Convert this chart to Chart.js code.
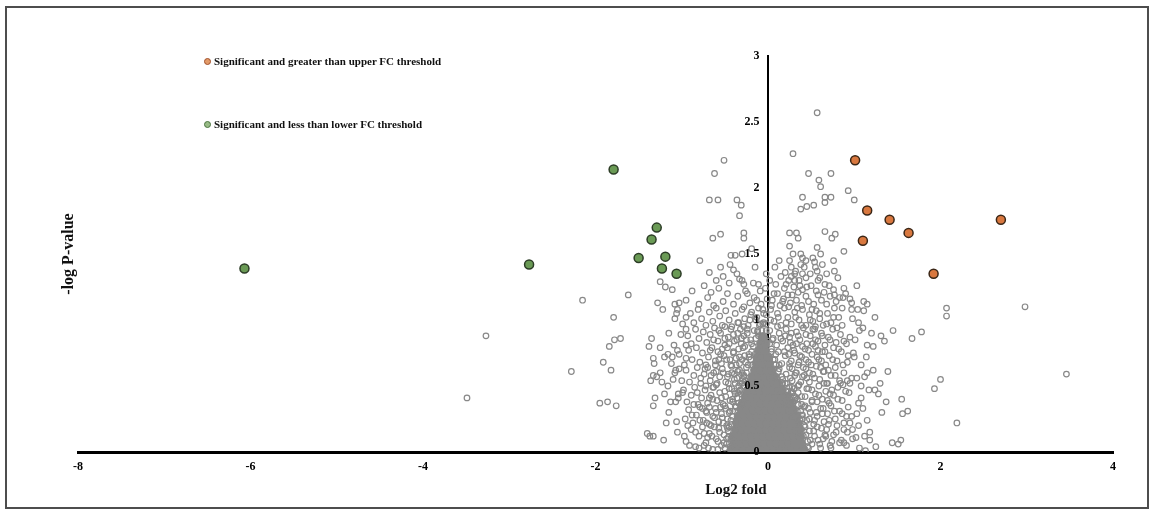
<!DOCTYPE html>
<html>
<head>
<meta charset="utf-8">
<script src="https://cdn.jsdelivr.net/npm/chart.js@4.4.1/dist/chart.umd.min.js"></script>
<style>
  html, body { margin: 0; padding: 0; background: #fff; }
  #wrap { position: relative; width: 1154px; height: 510px; font-family: 'Liberation Serif', 'Times New Roman', serif; }
  #c { position: absolute; left: 0; top: 0; }
  .frame { position: absolute; left: 5px; top: 6px; width: 1144px; height: 503px; box-sizing: border-box; border: 2px solid #4d4d4d; }
  .leg { position: absolute; left: 204px; height: 14px; line-height: 14px; font-size: 11px; font-weight: bold; color: #111; white-space: nowrap; }
  .leg i { display: inline-block; width: 5px; height: 5px; border-radius: 50%; margin-right: 3px; vertical-align: 0px; }
  .title { position: absolute; font-weight: bold; color: #111; white-space: nowrap; transform: translate(-50%, -50%); }
</style>
</head>
<body>
<div id="wrap">
  <canvas id="c" width="1154" height="510"></canvas>
  <div class="frame"></div>
  <div class="leg" style="top:54px"><i style="background:#e29a68;border:1.5px solid #a0502a"></i>Significant and greater than upper FC threshold</div>
  <div class="leg" style="top:117px"><i style="background:#98bb86;border:1.5px solid #4b7440"></i>Significant and less than lower FC threshold</div>
  <div class="title" style="left:68px;top:254px;font-size:16px;transform:translate(-50%,-50%) rotate(-90deg)">-log P-value</div>
  <div class="title" style="left:736px;top:489px;font-size:15px">Log2 fold</div>
</div>
<script>
// 坐标: [log2 fold, -log P]
const upRegulated = [
  [1.01,2.21],[1.15,1.83],[1.41,1.76],[1.63,1.66],[1.10,1.60],[1.92,1.35],[2.70,1.76]
];
const downRegulated = [
  [-6.07,1.39],[-2.77,1.42],[-1.79,2.14],[-1.29,1.70],[-1.35,1.61],[-1.50,1.47],[-1.19,1.48],[-1.23,1.39],[-1.06,1.35]
];

// 离散的灰点
const scatterGrey = [
  [-3.27,0.88],[-3.49,0.41],[-2.15,1.15],[-1.62,1.19],[-1.79,1.02],[-1.78,0.85],[-1.71,0.86],[-1.84,0.80],[-1.91,0.68],[-1.82,0.62],
  [-2.28,0.61],[-1.95,0.37],[-1.86,0.38],[-1.76,0.35],[-1.40,0.14],[-1.37,0.12],[-1.33,0.12],[-1.21,0.09],[-1.18,0.22],[-1.06,0.23],
  [-1.25,1.29],[-1.19,1.25],[-1.11,1.23],[-1.28,1.13],[-1.22,1.08],[-1.35,0.86],[-1.38,0.80],[-1.25,0.79],[-1.33,0.71],[-1.32,0.67],
  [-1.33,0.58],[-1.29,0.57],[-1.36,0.54],[-1.23,0.53],[-1.16,0.50],[-1.31,0.41],[-1.33,0.35],[-1.13,0.38],[-1.07,0.38],[-1.04,0.41],
  [-0.99,0.45],[-1.04,0.44],[-1.00,0.54],[-1.12,0.67],[-1.07,0.62],[-1.03,0.63],[-1.08,0.60],[-1.16,0.74],[-1.11,0.72],[-1.03,0.74],
  [-0.95,0.71],[-0.95,0.81],[-1.09,0.81],[-1.05,0.77],[-1.08,1.12],[-1.03,1.13],[-1.05,1.08],[-1.06,1.05],[-1.08,1.01],[-0.95,1.02],
  [-0.99,0.97],[-1.01,0.89],[-0.95,0.93],
  [0.88,1.52],[1.03,1.26],[0.90,1.20],[0.95,1.16],[0.97,1.13],[0.87,1.17],[0.86,1.09],[0.97,1.08],[1.04,1.08],[1.11,1.14],
  [1.15,1.12],[1.11,1.07],[1.24,1.02],[0.98,1.01],[1.05,0.98],[1.10,0.94],[1.06,0.92],[1.31,0.88],[0.88,0.84],[0.95,0.87],
  [1.01,0.85],[0.91,0.82],[1.15,0.81],[1.22,0.80],[0.93,0.73],[0.99,0.75],[1.67,0.86],[1.78,0.91],[2.07,1.09],[2.07,1.03],
  [2.98,1.10],[3.46,0.59],[1.39,0.61],[1.15,0.60],[0.87,0.51],[0.92,0.54],[0.97,0.56],[1.03,0.56],[1.17,0.47],[1.24,0.47],
  [2.00,0.55],[1.93,0.48],[1.05,0.37],[1.37,0.38],[0.91,0.27],[1.03,0.29],[1.56,0.29],[1.62,0.31],[2.19,0.22],[0.98,0.17],
  [1.02,0.11],[1.18,0.09],[0.88,0.07],[1.44,0.07],[1.51,0.06],[1.54,0.09],[1.06,0.03],[1.13,0.01],
  [0.57,2.57],[0.29,2.26],[-0.51,2.21],[-0.62,2.11],[0.47,2.11],[0.73,2.11],[0.59,2.06],[0.61,2.01],[0.93,1.98],[1.00,1.91],
  [-0.68,1.91],[-0.58,1.91],[-0.36,1.91],[-0.31,1.87],[-0.33,1.79],[0.40,1.93],[0.66,1.93],[0.73,1.93],[0.66,1.89],[0.38,1.84],
  [0.45,1.86],[0.53,1.87],[-0.64,1.62],[-0.55,1.65],[-0.28,1.66],[-0.28,1.62],[0.25,1.66],[0.33,1.66],[0.35,1.62],[0.66,1.67],
  [0.78,1.65],[0.74,1.62],[0.25,1.56],[0.29,1.50],[0.38,1.50],[0.57,1.55],[0.61,1.50],[-0.43,1.49],[-0.38,1.49],[-0.30,1.50],
  [-0.19,1.54],[-0.79,1.45],[-0.68,1.36],[-0.55,1.40],[-0.44,1.42],[-0.36,1.35],[-0.33,1.31],[-0.30,1.30],[-0.28,1.27],[-0.11,1.27],
  [-0.66,1.21],[0.25,1.45],[0.40,1.47],[0.44,1.45],[0.52,1.47],[0.54,1.44],[0.55,1.40],[0.76,1.45],[0.77,1.37],[0.81,1.32],
  [0.88,1.24],[0.20,1.36],[0.27,1.33],[0.31,1.35],[0.36,1.30],[0.40,1.35],[0.44,1.32],[0.24,1.30],[0.31,1.30],[0.38,1.42],
  [0.27,1.40],[0.57,1.37],[0.60,1.32],[0.66,1.27],[0.11,1.20],[0.19,1.24],[0.23,1.19],[0.35,1.21],[0.40,1.23],[0.44,1.18],
  [0.56,1.22],[0.58,1.19],[0.65,1.21],[0.76,1.23],[0.77,1.19]
];

// 中间密集区的灰点 (估读)
const cloudGrey = [
  [-0.95,1.15],[-0.88,1.22],[-0.80,1.12],[-0.74,1.26],[-0.70,1.17],[-0.63,1.11],[-0.57,1.24],[-0.52,1.14],[-0.47,1.20],[-0.40,1.12],
  [-0.35,1.18],[-0.26,1.22],[-0.21,1.13],[-0.16,1.17],[-0.08,1.12],[-0.03,1.24],[0.05,1.15],[0.09,1.27],[0.14,1.11],[0.18,1.16],
  [0.26,1.13],[0.30,1.25],[0.33,1.15],[0.39,1.11],[0.47,1.14],[0.50,1.26],[0.53,1.12],[0.62,1.15],[0.68,1.12],[0.71,1.26],
  [0.79,1.14],[0.83,1.17],
  [-0.90,1.05],[-0.86,0.98],[-0.81,1.08],[-0.77,1.01],[-0.72,0.96],[-0.68,1.06],[-0.64,0.99],[-0.60,1.09],[-0.56,1.03],[-0.53,0.96],
  [-0.49,1.07],[-0.45,1.00],[-0.42,0.95],[-0.38,1.05],[-0.34,0.98],[-0.30,1.08],[-0.27,1.01],[-0.23,0.96],[-0.19,1.06],[-0.14,1.00],
  [-0.11,1.09],[-0.06,0.97],[-0.02,1.04],[0.03,1.08],[0.07,0.99],[0.11,1.05],[0.15,0.96],[0.19,1.09],[0.23,1.02],[0.27,0.97],
  [0.31,1.06],[0.36,1.00],[0.40,1.08],[0.44,0.96],[0.48,1.04],[0.52,0.99],[0.56,1.07],[0.60,1.01],[0.64,0.96],[0.69,1.05],
  [0.73,0.98],[0.77,1.09],[0.82,1.02],[0.86,0.96],
  [-1.15,0.90],[-0.93,0.88],[-0.89,0.82],[-0.84,0.93],[-0.80,0.86],[-0.75,0.91],[-0.71,0.83],[-0.67,0.89],[-0.62,0.94],[-0.58,0.84],
  [-0.55,0.90],[-0.50,0.81],[-0.46,0.87],[-0.43,0.93],[-0.39,0.84],[-0.35,0.90],[-0.31,0.82],[-0.28,0.88],[-0.24,0.93],[-0.20,0.85],
  [-0.12,0.91],[-0.08,0.83],[0.02,0.92],[0.06,0.86],[0.10,0.81],[0.13,0.90],[0.17,0.84],[0.21,0.93],[0.25,0.87],[0.29,0.81],
  [0.33,0.91],[0.37,0.85],[0.41,0.94],[0.45,0.82],[0.49,0.88],[0.54,0.93],[0.58,0.84],[0.62,0.90],[0.66,0.81],[0.70,0.87],
  [0.75,0.93],[0.79,0.83],[0.84,0.89],[1.35,0.84],[1.45,0.92],
  [-1.20,0.72],[-0.97,0.66],[-0.92,0.77],[-0.88,0.70],[-0.83,0.79],[-0.79,0.68],[-0.76,0.75],[-0.72,0.66],[-0.69,0.72],[-0.65,0.79],
  [-0.61,0.69],[-0.58,0.76],[-0.54,0.67],[-0.51,0.73],[-0.47,0.79],[-0.44,0.70],[-0.40,0.76],[-0.37,0.66],[-0.33,0.72],[-0.29,0.79],
  [-0.26,0.68],[-0.22,0.74],[0.04,0.78],[0.08,0.70],[0.12,0.76],[0.16,0.67],[0.20,0.73],[0.23,0.79],[0.27,0.69],[0.31,0.75],
  [0.35,0.66],[0.39,0.72],[0.43,0.78],[0.47,0.68],[0.51,0.74],[0.55,0.80],[0.59,0.70],[0.63,0.76],[0.67,0.66],[0.71,0.73],
  [0.76,0.79],[0.80,0.69],[0.85,0.76],[0.92,0.68],[1.00,0.72],[1.08,0.66],
  [-1.25,0.60],[-1.10,0.55],[-0.95,0.62],[-0.91,0.53],[-0.86,0.58],[-0.82,0.64],[-0.78,0.52],[-0.74,0.59],[-0.70,0.64],[-0.67,0.54],
  [-0.63,0.60],[-0.60,0.51],[-0.56,0.57],[-0.53,0.63],[-0.49,0.53],[-0.46,0.59],[-0.42,0.65],[-0.39,0.55],[-0.35,0.61],[-0.32,0.52],
  [-0.28,0.58],[0.10,0.56],[0.13,0.63],[0.17,0.52],[0.21,0.59],[0.25,0.64],[0.28,0.54],[0.32,0.60],[0.36,0.51],[0.40,0.57],
  [0.44,0.63],[0.48,0.53],[0.52,0.59],[0.56,0.65],[0.60,0.55],[0.64,0.61],[0.68,0.52],[0.73,0.58],[0.78,0.64],[0.83,0.54],
  [0.88,0.60],[0.95,0.52],[1.12,0.57],[1.22,0.62],[1.30,0.52],
  [-1.20,0.44],[-0.98,0.47],[-0.94,0.38],[-0.89,0.43],[-0.85,0.49],[-0.81,0.36],[-0.77,0.41],[-0.73,0.47],[-0.70,0.37],[-0.66,0.43],
  [-0.63,0.49],[-0.59,0.39],[-0.56,0.45],[-0.52,0.36],[-0.49,0.42],[-0.45,0.48],[-0.41,0.38],[-0.38,0.44],[-0.34,0.50],[-0.31,0.36],
  [0.16,0.46],[0.20,0.37],[0.24,0.43],[0.28,0.49],[0.31,0.39],[0.35,0.45],[0.39,0.36],[0.43,0.42],[0.47,0.48],[0.51,0.38],
  [0.55,0.44],[0.59,0.50],[0.63,0.40],[0.67,0.46],[0.71,0.37],[0.76,0.43],[0.81,0.49],[0.86,0.39],[0.94,0.45],[1.08,0.41],
  [1.28,0.44],[1.55,0.40],
  [-1.15,0.30],[-0.96,0.25],[-0.92,0.32],[-0.87,0.22],[-0.83,0.28],[-0.79,0.34],[-0.75,0.24],[-0.71,0.30],[-0.68,0.21],[-0.64,0.27],
  [-0.61,0.33],[-0.57,0.23],[-0.54,0.29],[-0.50,0.35],[-0.47,0.25],[-0.44,0.31],[-0.42,0.21],[0.36,0.22],[0.39,0.28],[0.42,0.34],
  [0.45,0.24],[0.49,0.30],[0.53,0.21],[0.57,0.27],[0.61,0.33],[0.65,0.23],[0.69,0.29],[0.73,0.35],[0.78,0.25],[0.83,0.31],
  [0.88,0.22],[0.97,0.27],[1.15,0.24],[1.32,0.30],
  [-1.05,0.15],[-0.95,0.08],[-0.89,0.17],[-0.84,0.04],[-0.80,0.12],[-0.76,0.19],[-0.72,0.07],[-0.68,0.14],[-0.64,0.02],[-0.60,0.10],
  [-0.57,0.18],[-0.54,0.05],[-0.51,0.13],[-0.48,0.20],[0.48,0.16],[0.51,0.06],[0.54,0.12],[0.57,0.19],[0.61,0.03],[0.64,0.10],
  [0.68,0.17],[0.72,0.05],[0.76,0.13],[0.80,0.20],[0.85,0.09],[0.92,0.15],[1.12,0.12],[1.25,0.04],
  [-0.74,0.05],[-0.70,0.11],[-0.66,0.20],[-0.62,0.26],[-0.58,0.08],[-0.55,0.34],[-0.52,0.22],[-0.50,0.46],[-0.48,0.10],[-0.47,0.57],
  [-0.45,0.30],[-0.43,0.66],[-0.41,0.40],[-0.40,0.75],[-0.38,0.52],[-0.36,0.85],[-0.35,0.45],[-0.33,0.62],[-0.32,0.93],[-0.30,0.70],
  [-0.29,0.55],[-0.27,0.80],[-0.25,0.64],[-0.24,0.90],[-0.22,0.72],[-0.21,1.00],[-0.19,0.82],[-0.18,0.66],[-0.16,0.92],[-0.15,0.74],
  [-0.13,1.02],[-0.11,0.88],[-0.10,0.96],[-0.07,0.92],[-0.05,1.05],[-0.02,0.97],
  [-0.72,0.31],[-0.68,0.41],[-0.64,0.49],[-0.60,0.61],[-0.57,0.70],[-0.53,0.78],[-0.50,0.86],[-0.46,0.16],[-0.44,0.04],[-0.42,0.48],
  [-0.39,0.59],[-0.37,0.34],[-0.34,0.78],[-0.31,0.44],[-0.28,0.50],
  [0.74,0.08],[0.70,0.21],[0.66,0.13],[0.63,0.29],[0.60,0.06],[0.57,0.38],[0.54,0.24],[0.51,0.47],[0.49,0.09],[0.47,0.33],
  [0.45,0.56],[0.43,0.19],[0.41,0.64],[0.39,0.42],[0.37,0.73],[0.35,0.50],[0.33,0.82],[0.31,0.58],[0.29,0.37],[0.27,0.90],
  [0.25,0.67],[0.23,0.46],[0.21,0.98],[0.19,0.76],[0.17,0.55],[0.15,0.86],[0.13,0.66],[0.11,0.95],[0.09,0.74],[0.07,0.63],
  [0.05,0.85],[0.03,1.00],[0.02,0.70],
  [0.72,0.44],[0.69,0.52],[0.65,0.61],[0.62,0.69],[0.58,0.77],[0.55,0.85],[0.52,0.93],[0.48,0.60],[0.44,0.70],[0.40,0.28],
  [0.36,0.14],[0.34,0.40],[0.30,0.48],[0.26,0.56]
];

// 再补一层更密的圈 (估读)
const denseGrey = [
  [-0.97,0.12],[-0.93,0.20],[-0.91,0.05],[-0.88,0.28],[-0.86,0.36],[-0.84,0.15],[-0.82,0.45],[-0.80,0.03],[-0.79,0.24],[-0.78,0.56],
  [-0.76,0.33],[-0.74,0.14],[-0.73,0.63],[-0.72,0.50],[-0.71,0.22],[-0.69,0.03],[-0.68,0.34],[-0.67,0.77],[-0.66,0.58],[-0.65,0.12],
  [-0.64,0.40],[-0.63,0.85],[-0.62,0.19],[-0.61,0.66],[-0.60,0.30],[-0.59,0.52],[-0.58,0.02],[-0.57,0.92],[-0.56,0.15],[-0.55,0.74],
  [-0.54,0.41],[-0.53,0.26],[-0.52,0.60],[-0.51,0.07],[-0.50,0.95],[-0.49,0.33],[-0.48,0.70],[-0.47,0.18],[-0.46,0.52],[-0.45,0.82],
  [-0.44,0.39],[-0.43,0.10],[-0.42,0.60],[-0.41,0.27],[-0.40,0.89],[-0.39,0.46],[-0.38,0.16],[-0.37,0.71],[-0.36,0.56],[-0.35,0.98],
  [-0.34,0.37],[-0.33,0.67],[-0.32,0.47],[-0.31,0.86],[-0.30,0.60],[-0.29,0.38],[-0.28,0.95],[-0.27,0.73],[-0.26,0.54],[-0.25,0.85],
  [0.98,0.10],[0.95,0.22],[0.93,0.34],[0.91,0.05],[0.90,0.46],[0.88,0.17],[0.87,0.66],[0.86,0.29],[0.84,0.52],[0.83,0.07],
  [0.82,0.78],[0.81,0.40],[0.80,0.94],[0.79,0.15],[0.78,0.58],[0.77,0.31],[0.76,1.02],[0.75,0.70],[0.74,0.47],[0.73,0.03],
  [0.72,0.85],[0.71,0.24],[0.70,0.62],[0.69,0.39],[0.68,0.97],[0.67,0.12],[0.66,0.76],[0.65,0.52],[0.64,0.33],[0.63,0.88],
  [0.62,0.18],[0.61,0.64],[0.60,1.05],[0.59,0.43],[0.58,0.09],[0.57,0.72],[0.56,0.30],[0.55,0.95],[0.54,0.56],[0.53,0.16],
  [0.52,0.82],[0.51,0.39],[0.50,0.66],[0.49,1.00],[0.48,0.25],[0.47,0.77],[0.46,0.04],[0.45,0.48],[0.44,0.89],[0.43,0.35],
  [0.42,0.58],[0.41,0.12],[0.40,0.80],[0.39,0.96],[0.38,0.53],[0.37,0.24],[0.36,0.68],[0.35,0.88],[0.34,0.31],[0.33,0.60],
  [0.32,1.02],[0.31,0.42],[0.30,0.77],[0.29,0.27],[0.28,0.63],[0.27,0.46],[0.26,0.83],[0.24,0.74],[0.22,0.52],[0.20,0.88],
  [1.05,0.20],[1.08,0.50],[1.10,0.33],[1.14,0.72],[1.18,0.15],[1.20,0.90],
  [-0.28,1.10],[-0.24,1.20],[-0.20,1.04],[-0.17,1.28],[-0.13,1.15],[-0.09,1.22],[-0.06,1.08],[-0.01,1.16],[0.02,1.30],[0.04,1.11],
  [0.07,1.20],[0.12,1.02],[0.15,1.33],[0.17,1.14],[0.21,1.27],[0.24,1.10],[0.28,1.19],[0.32,1.37],[0.34,1.09],[0.37,1.26],
  [0.42,1.40],[0.45,1.25],[0.49,1.35],[0.51,1.08],[0.58,1.30],[0.63,1.42],[0.68,1.35],[0.72,1.18],[0.08,1.40],[0.13,1.45],
  [-0.02,1.35],[-0.45,1.28],[-0.52,1.33],[-0.60,1.30],[-0.40,1.38],[-0.15,1.40],
  [-0.50,0.03],[-0.48,0.06],[-0.46,0.11],[-0.45,0.19],[-0.43,0.24],[-0.41,0.31],[-0.38,0.35],[-0.36,0.41],[-0.33,0.46],[-0.30,0.52],
  [-0.28,0.57],[-0.25,0.60],[-0.23,0.66],[-0.20,0.70],[-0.19,0.76],[-0.17,0.80],[-0.14,0.86],[-0.12,0.92],[-0.09,0.97],[0.47,0.03],
  [0.46,0.08],[0.44,0.13],[0.42,0.20],[0.40,0.25],[0.38,0.31],[0.35,0.36],[0.32,0.41],[0.28,0.45],[0.25,0.49],[0.20,0.52],
  [0.16,0.57],[0.12,0.61],[0.09,0.66],[0.06,0.70],[0.04,0.76],[0.02,0.82],[0.00,0.88],[-0.02,0.92],[-0.05,0.98]
];

// 最密的核心 (重叠成实心)，每行: [-log P, [log2 fold...]]
const coreRows = [
  [0.02, [-0.42,-0.35,-0.28,-0.21,-0.14,-0.07,0.00,0.07,0.14,0.21,0.28,0.35,0.41]],
  [0.07, [-0.39,-0.32,-0.25,-0.18,-0.11,-0.04,0.03,0.10,0.17,0.24,0.31,0.38]],
  [0.12, [-0.40,-0.33,-0.26,-0.19,-0.12,-0.05,0.02,0.09,0.16,0.23,0.30,0.37]],
  [0.17, [-0.37,-0.30,-0.23,-0.16,-0.09,-0.02,0.05,0.12,0.19,0.26,0.33,0.37]],
  [0.22, [-0.36,-0.29,-0.22,-0.15,-0.08,-0.01,0.06,0.13,0.20,0.27,0.34]],
  [0.27, [-0.34,-0.27,-0.20,-0.13,-0.06,0.01,0.08,0.15,0.22,0.29,0.33]],
  [0.32, [-0.31,-0.24,-0.17,-0.10,-0.03,0.04,0.11,0.18,0.25,0.29]],
  [0.37, [-0.29,-0.22,-0.15,-0.08,-0.01,0.06,0.13,0.20,0.26]],
  [0.42, [-0.26,-0.19,-0.12,-0.05,0.02,0.09,0.16,0.22]],
  [0.47, [-0.23,-0.16,-0.09,-0.02,0.05,0.12,0.16]],
  [0.52, [-0.21,-0.14,-0.07,0.00,0.07,0.11]],
  [0.57, [-0.18,-0.11,-0.04,0.03,0.07]],
  [0.62, [-0.15,-0.08,-0.01,0.04]],
  [0.67, [-0.13,-0.06,0.01]],
  [0.72, [-0.12,-0.05,0.00]],
  [0.77, [-0.10,-0.04]],
  [0.82, [-0.08,-0.03]],
  [0.87, [-0.06]]
];

const xTicks = [-8, -6, -4, -2, 0, 2, 4];
const yTicks = [0, 0.5, 1, 1.5, 2, 2.5, 3];

const toXY = pts => pts.map(([x, y]) => ({ x, y }));
const corePoints = coreRows.flatMap(([y, xs]) => xs.map(x => ({ x, y })));

Chart.defaults.font.family = "'Liberation Serif', 'Times New Roman', serif";
Chart.defaults.color = '#000';

const GREY = '#888888';

new Chart(document.getElementById('c'), {
    type: 'scatter',
    data: {
        datasets: [{
            label: 'Significant and greater than upper FC threshold',
            data: toXY(upRegulated),
            pointRadius: 4.5,
            borderWidth: 1.5,
            borderColor: '#3a2616',
            backgroundColor: '#d9783f'
        }, {
            label: 'Significant and less than lower FC threshold',
            data: toXY(downRegulated),
            pointRadius: 4.5,
            borderWidth: 1.5,
            borderColor: '#2c3c26',
            backgroundColor: '#6a9a55'
        }, {
            label: 'grey',
            data: toXY(scatterGrey.concat(cloudGrey, denseGrey)),
            pointRadius: 2.8,
            borderWidth: 1.2,
            borderColor: GREY,
            backgroundColor: 'rgba(0,0,0,0)'
        }, {
            label: 'core',
            data: corePoints,
            pointRadius: 4.5,
            borderWidth: 1,
            borderColor: GREY,
            backgroundColor: GREY
        }]
    },
    options: {
        responsive: false,
        animation: false,
        events: [],
        layout: { padding: { left: 78, right: 41, top: 56, bottom: 0 } },
        plugins: { legend: { display: false }, tooltip: { enabled: false } },
        scales: {
            x: {
                type: 'linear',
                position: 'bottom',
                min: -8,
                max: 4,
                afterFit: s => { s.height = 58; },
                afterBuildTicks: s => { s.ticks = xTicks.map(v => ({ value: v })); },
                grid: { display: false, drawTicks: false },
                border: { color: '#000', width: 3 },
                ticks: { padding: 8, font: { size: 12, weight: 'bold' }, callback: v => String(v) }
            },
            y: {
                type: 'linear',
                position: { x: 0 },
                min: 0,
                max: 3,
                afterBuildTicks: s => { s.ticks = yTicks.map(v => ({ value: v })); },
                grid: { display: false, drawTicks: false },
                border: { color: '#000', width: 2 },
                // 居中的轴不会自动留空, 用空格把数字推开
                ticks: { z: 1, font: { size: 12, weight: 'bold' }, callback: v => String(v) + '\u2002\u2009' }
            }
        }
    }
});
</script>
</body>
</html>
